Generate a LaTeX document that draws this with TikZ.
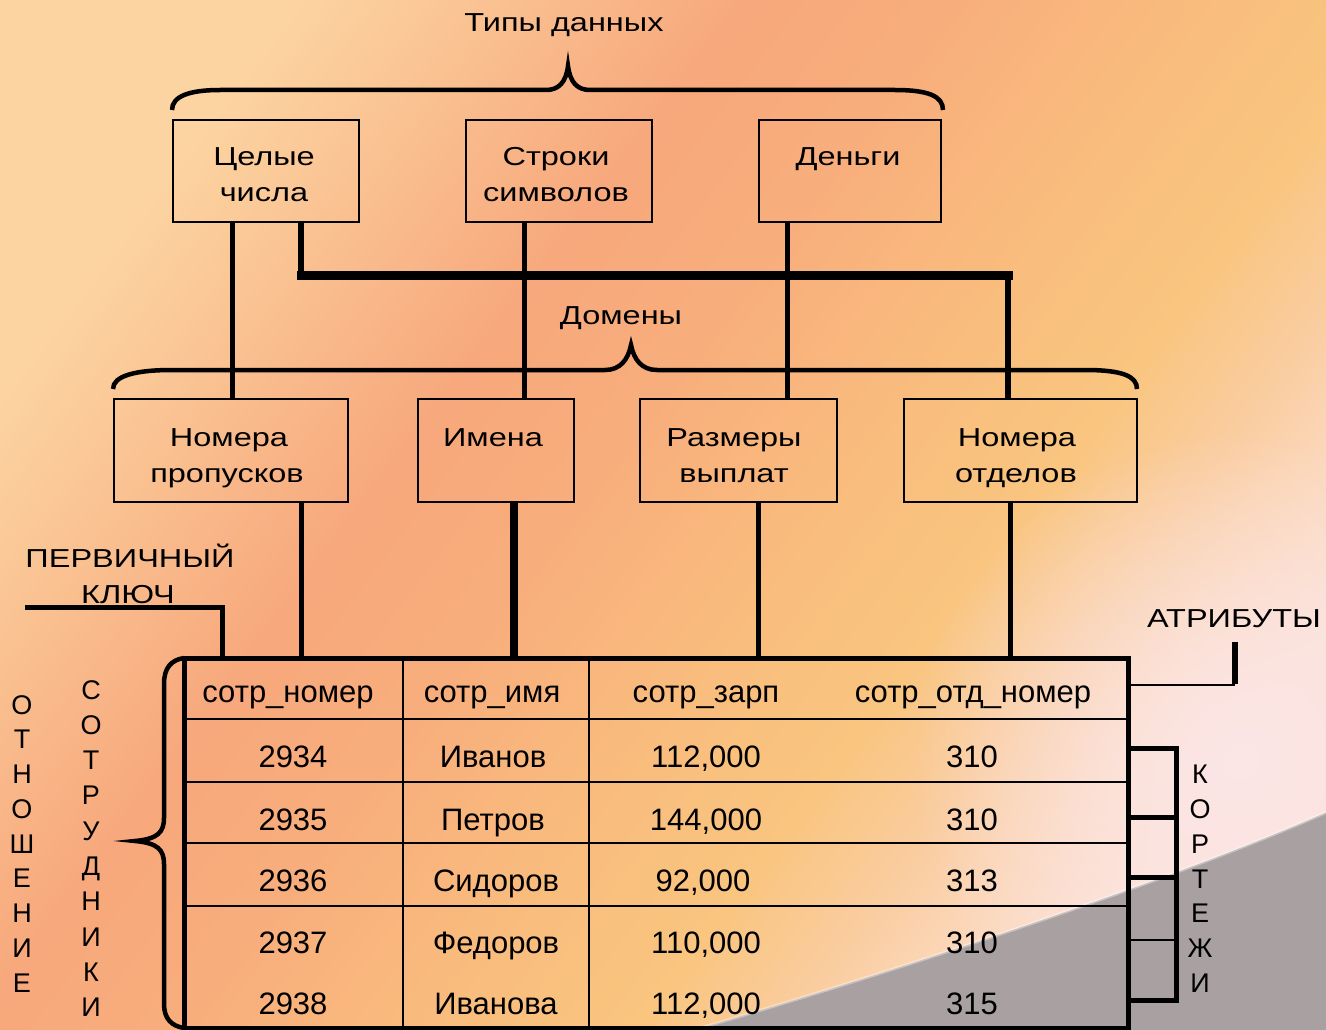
\documentclass[tikz,border=0pt]{standalone}
\usepackage{fontspec}
\usetikzlibrary{fadings}
\setmainfont{Liberation Sans}
\newfontfamily\labfont[FakeStretch=1.25]{Liberation Sans}
\definecolor{c0}{HTML}{FCD4A1}
\definecolor{c1}{HTML}{F7A87C}
\definecolor{c2}{HTML}{F8AE7C}
\definecolor{c3}{HTML}{F9BC7D}
\definecolor{c4}{HTML}{F9C57F}
\definecolor{c5}{HTML}{FACDA0}
\definecolor{c6}{HTML}{FBD8BC}
\definecolor{c7}{HTML}{FBE0D4}
\definecolor{pinkglow}{HTML}{FCE6E6}
\definecolor{graybg}{HTML}{A9A1A1}
\tikzfading[name=glowfade, inner color=transparent!0, outer color=transparent!100]
\pgfdeclarehorizontalshading{bgshade}{100bp}{color(0bp)=(c0); color(25bp)=(c0); color(40bp)=(c1); color(47bp)=(c2); color(55bp)=(c3); color(62bp)=(c4); color(67bp)=(c5); color(71bp)=(c6); color(75bp)=(c7); color(100bp)=(c7)}
\tikzset{
  box/.style={draw=black, line width=2pt, inner sep=0pt, outer sep=0pt},
  tblst/.style={draw=black, line width=5pt, inner sep=0pt, outer sep=0pt},
  conn/.style={draw=black, line width=5pt},
  brc/.style={draw=black, line width=4.5pt},
  grid/.style={draw=black, line width=2.5pt},
  lab/.style={font=\labfont\fontsize{26}{36}\selectfont, inner sep=0pt, anchor=base},
  cell/.style={font=\fontsize{31}{36}\selectfont, inner sep=0pt, anchor=base},
  vert/.style={font=\fontsize{27}{34.75}\selectfont, inner sep=0pt, anchor=north, align=center},
}
\begin{document}
\begin{tikzpicture}[x=1pt,y=-1pt]
\useasboundingbox (0,0) rectangle (1326,1030);
% background
\shade[shading=bgshade,shading angle=-37] (0,0) rectangle (1326,1030);
\begin{scope}
\clip (0,0) rectangle (1326,1030);
\fill[pinkglow, path fading=glowfade] (1240,760) circle (330);
\end{scope}
\fill[graybg] (690,1031) .. controls (850,985) and (1150,890) .. (1327,812) -- (1327,1031) -- cycle;
\draw[white,opacity=0.35,line width=3pt] (690,1031) .. controls (850,985) and (1150,890) .. (1327,812);

% titles
\node[lab] (ttl) at (564,32) {Типы данных};
\node[lab] (dom) at (621,324) {Домены};

% top brace
\draw[brc] (172,110) .. controls (172,96) and (190,90) .. (220,90) -- (546,90)
  .. controls (559,90) and (566,82) .. (568,66) .. controls (570,82) and (577,90) .. (590,90)
  -- (895,90) .. controls (928,90) and (943,96) .. (943,110);
% domain brace
\draw[brc] (113,389) .. controls (113,376) and (135,370) .. (172,370) -- (605,370)
  .. controls (620,370) and (628,360) .. (631,345) .. controls (634,360) and (642,370) .. (657,370)
  -- (1085,370) .. controls (1122,370) and (1137,376) .. (1137,389);

% data type boxes
\node[box, minimum width=186pt, minimum height=102pt] (t1) at (266,171) {};
\node[box, minimum width=186pt, minimum height=102pt] (t2) at (559,171) {};
\node[box, minimum width=182pt, minimum height=102pt] (t3) at (850,171) {};
\node[lab] (t1a) at (264,166) {Целые};
\node[lab] (t1b) at (264,201) {числа};
\node[lab] (t2a) at (556,166) {Строки};
\node[lab] (t2b) at (556,201) {символов};
\node[lab] (t3a) at (848,166) {Деньги};

% domain boxes
\node[box, minimum width=234pt, minimum height=103pt] (d1) at (231,450.5) {};
\node[box, minimum width=156pt, minimum height=103pt] (d2) at (496,450.5) {};
\node[box, minimum width=197pt, minimum height=103pt] (d3) at (738.5,450.5) {};
\node[box, minimum width=233pt, minimum height=103pt] (d4) at (1020.5,450.5) {};
\node[lab] (d1a) at (229,446) {Номера};
\node[lab] (d1b) at (227,482) {пропусков};
\node[lab] (d2a) at (493,446) {Имена};
\node[lab] (d3a) at (734,446) {Размеры};
\node[lab] (d3b) at (734,482) {выплат};
\node[lab] (d4a) at (1017,446) {Номера};
\node[lab] (d4b) at (1016,482) {отделов};

% connectors types -> domains
\coordinate (bus) at (1008,275);
\draw[conn] ([xshift=-34pt]t1.south) -- ([xshift=-34pt]t1.south |- d1.north);
\draw[conn, line width=6pt] ([xshift=35pt]t1.south) -- ([xshift=35pt]t1.south |- bus);
\draw[conn, line width=9pt, line cap=rect] ([xshift=35pt]t1.south |- bus) -- (bus);
\draw[conn, line width=6pt] (bus) -- (bus |- d4.north);
\draw[conn] ([xshift=-35pt]t2.south) -- ([xshift=-35pt]t2.south |- d2.north);
\draw[conn] ([xshift=-63pt]t3.south) -- ([xshift=-63pt]t3.south |- d3.north);

% table
\node[tblst, minimum width=944pt, minimum height=370pt] (tbl) at (656,843) {};
\foreach \yy in {719,782,843,906} \draw[grid] (tbl.west |- 0,\yy) -- (tbl.east |- 0,\yy);
\foreach \xx in {403,589} \draw[grid] (tbl.north -| \xx,0) -- (tbl.south -| \xx,0);

% connectors domains -> table
\draw[conn] ([xshift=70pt]d1.south) -- ([xshift=70pt]d1.south |- tbl.north);
\draw[conn, line width=8pt] ([xshift=18pt]d2.south) -- ([xshift=18pt]d2.south |- tbl.north);
\draw[conn] ([xshift=19.5pt]d3.south) -- ([xshift=19.5pt]d3.south |- tbl.north);
\draw[conn] ([xshift=-10.5pt]d4.south) -- ([xshift=-10.5pt]d4.south |- tbl.north);

% header
\node[cell] (h1) at (288,702) {сотр\_номер};
\node[cell] (h2) at (492,702) {сотр\_имя};
\node[cell] (h3) at (706,702) {сотр\_зарп};
\node[cell] (h4) at (973,702) {сотр\_отд\_номер};
% rows
\node[cell] (r1a) at (293,767) {2934};
\node[cell] (r1b) at (493,767) {Иванов};
\node[cell] (r1c) at (706,767) {112,000};
\node[cell] (r1d) at (972,767) {310};
\node[cell] (r2a) at (293,830) {2935};
\node[cell] (r2b) at (493,830) {Петров};
\node[cell] (r2c) at (706,830) {144,000};
\node[cell] (r2d) at (972,830) {310};
\node[cell] (r3a) at (293,891) {2936};
\node[cell] (r3b) at (496,891) {Сидоров};
\node[cell] (r3c) at (703,891) {92,000};
\node[cell] (r3d) at (972,891) {313};
\node[cell] (r4a) at (293,953) {2937};
\node[cell] (r4b) at (496,953) {Федоров};
\node[cell] (r4c) at (706,953) {110,000};
\node[cell] (r4d) at (972,953) {310};
\node[cell] (r5a) at (293,1014) {2938};
\node[cell] (r5b) at (496,1014) {Иванова};
\node[cell] (r5c) at (706,1014) {112,000};
\node[cell] (r5d) at (972,1014) {315};

% primary key
\node[lab] (pk1) at (130,567) {ПЕРВИЧНЫЙ};
\node[lab] (pk2) at (128,603) {КЛЮЧ};
\coordinate (pkfree) at (25,607);
\draw[conn] (pkfree) -| ([xshift=38pt]tbl.north west);

% attributes
\node[lab] (attr) at (1234,627) {АТРИБУТЫ};
\coordinate (atc) at (1235,685);
\coordinate (atfree) at (1235,642);
\draw[grid] (tbl.east |- atc) -- (atc);
\draw[conn, line width=6pt] ([yshift=1pt]atc) -- (atfree);

% tuples bracket
\draw[conn] (tbl.east |- 0,748) -| (1176,1000) -- (tbl.east |- 0,1000);
\draw[conn] (tbl.east |- 0,817) -- (1176,817);
\draw[conn] (tbl.east |- 0,877) -- (1176,877);
\draw[grid] (tbl.east |- 0,940) -- (1176,940);
\node[vert] (kort) at (1200,765) {К\\О\\Р\\Т\\Е\\Ж\\И};

% relation brace
\draw[brc] (tbl.north west) .. controls (171,660) and (164,668) .. (164,684) -- (164,818)
  .. controls (164,832) and (158,839) .. (135,841) .. controls (158,843) and (164,850) .. (164,864)
  -- (164,1004) .. controls (164,1018) and (171,1026) .. (tbl.south west);
\node[vert] (otn) at (22,695) {О\\Т\\Н\\О\\Ш\\Е\\Н\\И\\Е};
\node[vert, font=\fontsize{27}{35.3}\selectfont] (sotr) at (91,680) {С\\О\\Т\\Р\\У\\Д\\Н\\И\\К\\И};
\end{tikzpicture}
\end{document}
